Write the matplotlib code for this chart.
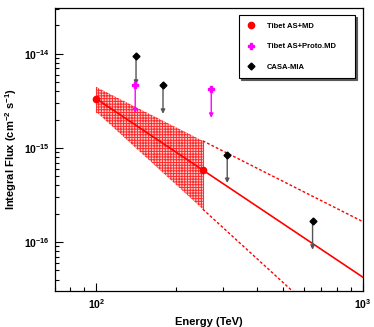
import numpy as np
import matplotlib
matplotlib.use("Agg")
import matplotlib.pyplot as plt
from matplotlib.ticker import LogLocator, FixedLocator, NullFormatter, FixedFormatter

plt.rcParams['font.family'] = ['Liberation Sans', 'DejaVu Sans']
plt.rcParams['font.weight'] = 'bold'
plt.rcParams['mathtext.fontset'] = 'custom'
plt.rcParams['mathtext.rm'] = 'Liberation Sans:bold'
plt.rcParams['mathtext.bf'] = 'Liberation Sans:bold'
plt.rcParams['mathtext.it'] = 'Liberation Sans:bold'
plt.rcParams['hatch.linewidth'] = 0.7

# ---- data ----
md_E = [100, 251]
md_F = [3.33e-15, 5.78e-16]

proto_E = [140, 270]
proto_F = [4.67e-15, 4.18e-15]

casa_E = [141, 178, 310, 648]
casa_F = [9.37e-15, 4.61e-15, 8.49e-16, 1.66e-16]

fit_norm = 3.33e-15      # at 100 TeV
fit_index = -1.894
band_E = [100, 251]
band_upper = [4.43e-15, 1.19e-15]
band_lower = [2.42e-15, 2.24e-16]

xticks_major = [100, 1000]
xtick_labels = [r'$10^{2}$', r'$10^{3}$']
yticks_major = [1e-16, 1e-15, 1e-14]
ytick_labels = [r'$10^{-16}$', r'$10^{-15}$', r'$10^{-14}$']

fig = plt.figure(figsize=(3.74, 3.27), dpi=100)
ax = fig.add_axes([0.147, 0.111, 0.823, 0.864])
ax.set_xscale('log')
ax.set_yscale('log')
ax.set_xlim(70, 1000)
ax.set_ylim(3.05e-17, 3.05e-14)

# band (butterfly)
bE = np.array(band_E, float)
def powline(E0, F0, E1, F1, E):
    idx = np.log10(F1 / F0) / np.log10(E1 / E0)
    return F0 * (E / E0) ** idx
Eb = np.logspace(np.log10(bE[0]), np.log10(bE[1]), 50)
up = powline(bE[0], band_upper[0], bE[1], band_upper[1], Eb)
lo = powline(bE[0], band_lower[0], bE[1], band_lower[1], Eb)
ax.fill_between(Eb, lo, up, facecolor='#ffd0d0', edgecolor='#ff2a2a',
                hatch='++++++', linewidth=0, zorder=2)
ax.plot([bE[0], bE[0]], [band_lower[0], band_upper[0]], color='#ff3030', lw=0.8, zorder=2)
ax.plot([bE[1], bE[1]], [band_lower[1], band_upper[1]], color='#ff3030', lw=0.8, zorder=2)

# dashed extrapolations
Eext = np.logspace(np.log10(bE[1]), 3, 50)
ax.plot(Eext, powline(bE[0], band_upper[0], bE[1], band_upper[1], Eext),
        color='red', lw=1.0, ls=(0, (2, 1.5)), zorder=3)
ax.plot(Eext, powline(bE[0], band_lower[0], bE[1], band_lower[1], Eext),
        color='red', lw=1.0, ls=(0, (2, 1.5)), zorder=3)

# best fit
Ef = np.logspace(2, 3, 50)
ax.plot(Ef, fit_norm * (Ef / 100.0) ** fit_index, color='red', lw=1.2, zorder=4)

# upper-limit arrows
def arrows(E, F, col):
    for e, f in zip(E, F):
        ax.annotate('', xy=(e, f * 0.5), xytext=(e, f),
                    arrowprops=dict(arrowstyle='-|>', color=col, lw=1.0,
                                    mutation_scale=6, shrinkA=0, shrinkB=0),
                    zorder=5)
arrows(proto_E, proto_F, 'magenta')
arrows(casa_E, casa_F, '#555555')

ax.plot(md_E, md_F, 'o', color='red', ms=4.5, ls='none', zorder=6, label='Tibet AS+MD')
ax.plot(proto_E, proto_F, 'P', color='magenta', ms=5, ls='none', zorder=6, label='Tibet AS+Proto.MD')
ax.plot(casa_E, casa_F, 'D', color='black', ms=3.5, ls='none', zorder=6, label='CASA-MIA')

# ticks
ax.xaxis.set_major_locator(FixedLocator(xticks_major))
ax.xaxis.set_major_formatter(FixedFormatter(xtick_labels))
ax.xaxis.set_minor_locator(LogLocator(base=10, subs=np.arange(2, 10)))
ax.xaxis.set_minor_formatter(NullFormatter())
ax.yaxis.set_major_locator(FixedLocator(yticks_major))
ax.yaxis.set_major_formatter(FixedFormatter(ytick_labels))
ax.yaxis.set_minor_locator(LogLocator(base=10, subs=np.arange(2, 10)))
ax.yaxis.set_minor_formatter(NullFormatter())
ax.tick_params(which='both', direction='in', top=False, right=False, labelsize=7.5, width=0.8)
ax.tick_params(which='major', length=6)
ax.tick_params(which='minor', length=3)
ax.tick_params(axis='x', pad=5)
for s in ax.spines.values():
    s.set_linewidth(0.9)

ax.set_xlabel('Energy (TeV)', fontsize=8, fontweight='bold', labelpad=4)
ax.set_ylabel(r'Integral Flux (cm$^{-2}$ s$^{-1}$)', fontsize=8, fontweight='bold', labelpad=4)

leg = ax.legend(loc='upper left', bbox_to_anchor=(0.598, 0.76, 0.377, 0.216),
                mode='expand', fontsize=5.5, frameon=True, fancybox=False,
                edgecolor='black', shadow={'color': '0.35', 'alpha': 1.0, 'ox': 1.5, 'oy': -1.5},
                borderaxespad=0,
                labelspacing=1.7, handlelength=1.2, handletextpad=1.4,
                borderpad=1.0, numpoints=1)
leg.get_frame().set_linewidth(0.8)
for t in leg.get_texts():
    t.set_fontweight('bold')

fig.savefig('out.png', dpi=100)
